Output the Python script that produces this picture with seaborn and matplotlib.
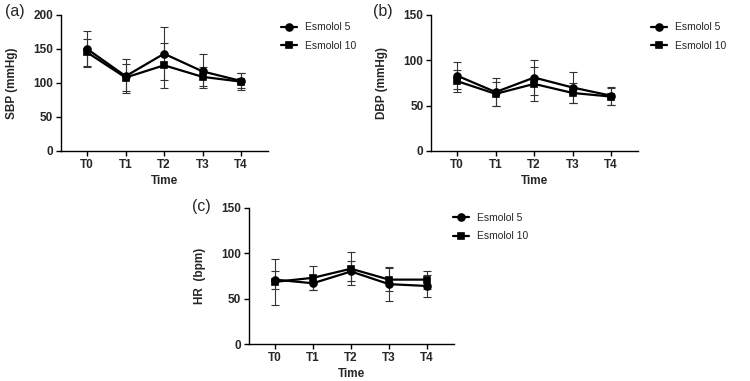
import matplotlib
matplotlib.use("Agg")
import matplotlib.pyplot as plt
import numpy as np
import pandas as pd
import seaborn as sns

# ---------------- data (mean, SD) ----------------
times = ["T0", "T1", "T2", "T3", "T4"]
groups = ["Esmolol 5", "Esmolol 10"]

sbp_e5 = [150, 110, 143, 117, 103]
sbp_e5_sd = [26, 25, 39, 25, 11]
sbp_e10 = [145, 108, 126, 109, 102]
sbp_e10_sd = [20, 20, 33, 14, 13]

dbp_e5 = [83, 65, 81, 70, 61]
dbp_e5_sd = [15, 15, 19, 17, 10]
dbp_e10 = [77, 63, 74, 64, 60]
dbp_e10_sd = [12, 13, 19, 11, 9]

hr_e5 = [71, 67, 80, 66, 64]
hr_e5_sd = [10, 7, 11, 19, 12]
hr_e10 = [68.5, 73, 83, 71, 71]
hr_e10_sd = [25.5, 13, 18, 13, 10]

sns.set_style("ticks")
plt.rcParams["font.family"] = ["Liberation Sans", "DejaVu Sans"]

fig = plt.figure(figsize=(7.5, 3.81), dpi=100)

panels = [
    ("(a)", "SBP (mmHg)", 200, 50, sbp_e5, sbp_e5_sd, sbp_e10, sbp_e10_sd,
     [0.0813, 0.6037, 0.276, 0.357], (0.368, 0.955), (0.006, 0.99)),
    ("(b)", "DBP (mmHg)", 150, 50, dbp_e5, dbp_e5_sd, dbp_e10, dbp_e10_sd,
     [0.5747, 0.6037, 0.276, 0.357], (0.861, 0.955), (0.498, 0.99)),
    ("(c)", "HR  (bpm)", 150, 50, hr_e5, hr_e5_sd, hr_e10, hr_e10_sd,
     [0.332, 0.0971, 0.273, 0.357], (0.597, 0.455), (0.256, 0.478)),
]

for tag, ylab, ymax, ystep, m5, s5, m10, s10, rect, leg_xy, tag_xy in panels:
    ax = fig.add_axes(rect)
    df = pd.DataFrame({
        "Time": times * 2,
        "value": m5 + m10,
        "group": [groups[0]] * 5 + [groups[1]] * 5,
    })
    pos = np.arange(len(times))
    for mean, sd in [(m5, s5), (m10, s10)]:
        ax.errorbar(pos, mean, yerr=sd, fmt="none", ecolor="#333333",
                    elinewidth=0.8, capsize=3, capthick=0.8, zorder=1)
    sns.pointplot(data=df, x="Time", y="value", hue="group", order=times,
                  hue_order=groups, palette=["black", "black"],
                  markers=["o", "s"], markersize=5, linewidth=1.6,
                  errorbar=None, ax=ax, zorder=3)
    ax.set_xlim(-0.68, 4.7)
    ax.set_ylim(0, ymax)
    ax.set_yticks(np.arange(0, ymax + 1, ystep))
    ax.set_xlabel("Time", fontsize=8.5, fontweight="bold", labelpad=3)
    ax.set_ylabel(ylab, fontsize=8.5, fontweight="bold", labelpad=11)
    ax.tick_params(axis="both", labelsize=8.5, width=1, length=3.5,
                   color="black", pad=2)
    for lab in ax.get_xticklabels() + ax.get_yticklabels():
        lab.set_fontweight("bold")
    for side in ["top", "right"]:
        ax.spines[side].set_visible(False)
    for side in ["left", "bottom"]:
        ax.spines[side].set_linewidth(1)
        ax.spines[side].set_color("black")
    handles, labels = ax.get_legend_handles_labels()
    ax.legend(handles, labels, loc="upper left", bbox_to_anchor=leg_xy,
              bbox_transform=fig.transFigure, frameon=False, fontsize=7.5,
              handlelength=1.5, handletextpad=0.8, labelspacing=0.8,
              borderpad=0)
    fig.text(tag_xy[0], tag_xy[1], tag, fontsize=11.5, va="top", ha="left")

plt.savefig("out.png", dpi=100)
